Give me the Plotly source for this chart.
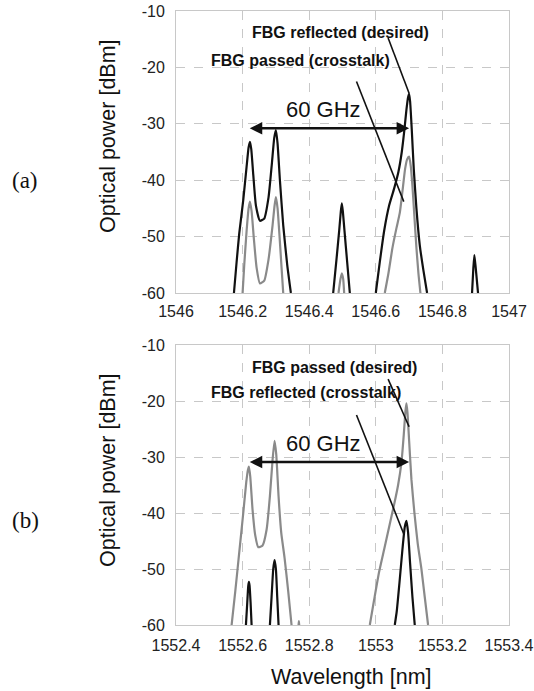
import plotly.graph_objects as go
from plotly.subplots import make_subplots

# ---------------- data (a) ----------------
a_blk1_x = [1546.174, 1546.182, 1546.190, 1546.202, 1546.212, 1546.218, 1546.222, 1546.226, 1546.232, 1546.240, 1546.252, 1546.265, 1546.278, 1546.288, 1546.295, 1546.300, 1546.305, 1546.312, 1546.322, 1546.334, 1546.345]
a_blk1_y = [-60, -54.5, -49.4, -43.5, -37.6, -34.2, -33.2, -34.5, -39, -44.5, -47.2, -46.8, -43, -37, -32.5, -31.1, -33.5, -40, -48, -55, -60]
a_gry1_x = [1546.200, 1546.205, 1546.212, 1546.218, 1546.222, 1546.227, 1546.234, 1546.242, 1546.252, 1546.265, 1546.278, 1546.290, 1546.296, 1546.300, 1546.305, 1546.311, 1546.317, 1546.322]
a_gry1_y = [-60, -55, -49, -45, -43.8, -45.5, -50.5, -55.5, -58.3, -57.8, -54, -48, -44.5, -43, -45, -50, -55.5, -60]
a_blk2_x = [1546.472, 1546.482, 1546.490, 1546.495, 1546.498, 1546.501, 1546.506, 1546.514, 1546.522]
a_blk2_y = [-60, -54, -49, -45.5, -44.1, -45.5, -49, -54.5, -60]
a_gry2_x = [1546.488, 1546.494, 1546.498, 1546.502, 1546.505]
a_gry2_y = [-60, -57.5, -56.5, -57.5, -60]
a_blk3_x = [1546.600, 1546.612, 1546.625, 1546.640, 1546.655, 1546.668, 1546.678, 1546.686, 1546.692, 1546.697, 1546.700, 1546.703, 1546.708, 1546.714, 1546.722, 1546.732, 1546.743, 1546.754]
a_blk3_y = [-60, -54.5, -49, -44.5, -41.5, -38.5, -35, -31, -27.5, -25.3, -24.7, -26, -31, -38, -45, -51.5, -56, -60]
a_gry3_x = [1546.627, 1546.638, 1546.650, 1546.662, 1546.672, 1546.680, 1546.688, 1546.694, 1546.700, 1546.705, 1546.710, 1546.716, 1546.722, 1546.728, 1546.734]
a_gry3_y = [-60, -56.5, -52, -48.5, -45.8, -42, -38, -36.3, -35.8, -37.5, -41, -46.5, -52, -56.5, -60]
a_blk4_x = [1546.889, 1546.893, 1546.896, 1546.900, 1546.907]
a_blk4_y = [-60, -55.5, -53.3, -55.5, -60]

# ---------------- data (b) ----------------
b_gry1_x = [1552.567, 1552.578, 1552.590, 1552.602, 1552.611, 1552.616, 1552.619, 1552.623, 1552.630, 1552.638, 1552.647, 1552.660, 1552.672, 1552.682, 1552.690, 1552.696, 1552.701, 1552.708, 1552.716, 1552.726, 1552.737, 1552.747]
b_gry1_y = [-60, -54, -47, -40, -34.5, -32.3, -31.7, -33.5, -39.5, -44, -46.1, -45.8, -43, -37, -30.5, -27.1, -29.5, -37, -43.5, -48, -54, -60]
b_gry2_x = [1552.768, 1552.769, 1552.770]
b_gry2_y = [-60, -59.3, -60]
b_gry3_x = [1552.982, 1552.995, 1553.010, 1553.025, 1553.040, 1553.055, 1553.067, 1553.077, 1553.084, 1553.089, 1553.092, 1553.095, 1553.100, 1553.107, 1553.116, 1553.126, 1553.137, 1553.147, 1553.157]
b_gry3_y = [-60, -55.5, -50.5, -46.5, -42.5, -38.5, -35, -31, -26, -21.8, -20.4, -22, -27, -34, -40, -45.5, -50, -55, -60]
b_blk1_x = [1552.610, 1552.614, 1552.617, 1552.619, 1552.621, 1552.624, 1552.627]
b_blk1_y = [-60, -56, -53, -52.3, -53, -56, -60]
b_blk2_x = [1552.682, 1552.687, 1552.692, 1552.696, 1552.700, 1552.704, 1552.708]
b_blk2_y = [-60, -55, -50, -48.4, -50, -55, -60]
b_blk3_x = [1553.057, 1553.063, 1553.071, 1553.080, 1553.087, 1553.092, 1553.097, 1553.103, 1553.110, 1553.117]
b_blk3_y = [-60, -57.5, -52.5, -46.5, -42.5, -41.4, -43.5, -49, -55, -60]

# ticks
a_xtickvals = [1546, 1546.2, 1546.4, 1546.6, 1546.8, 1547]
a_xticktext = ["1546", "1546.2", "1546.4", "1546.6", "1546.8", "1547"]
b_xtickvals = [1552.4, 1552.6, 1552.8, 1553, 1553.2, 1553.4]
b_xticktext = ["1552.4", "1552.6", "1552.8", "1553", "1553.2", "1553.4"]
ytickvals = [-10, -20, -30, -40, -50, -60]
yticktext = ["-10", "-20", "-30", "-40", "-50", "-60"]

# annotation pointer lines [x0, y0, x1, y1]
a_ptr_desired = [1546.637, -14.8, 1546.700, -24.6]
a_ptr_cross = [1546.542, -22.5, 1546.684, -43.8]
b_ptr_desired = [1553.037, -16.1, 1553.100, -24.6]
b_ptr_cross = [1552.942, -22.5, 1553.084, -43.75]
a_arrow = [1546.217, 1546.700, -30.8]
b_arrow = [1552.617, 1553.100, -30.9]

BLACK = "#111111"
GRAY = "#8a8a8a"
FONT = "Liberation Sans"

W, H = 534, 691
L, T, R, B = 176, 11, 25, 66
PH = H - T - B  # plot area height

def py(pix):
    # page pixel y -> paper fraction
    return 1 - (pix - T) / PH

def px(pix):
    return (pix - L) / (W - L - R)

fig = make_subplots(rows=2, cols=1, vertical_spacing=0.0)

def add(x, y, color, row):
    fig.add_trace(go.Scatter(x=x, y=y, mode="lines",
                             line=dict(color=color, width=2.2, shape="spline", smoothing=0.5),
                             showlegend=False, hoverinfo="skip"), row=row, col=1)

add(a_gry1_x, a_gry1_y, GRAY, 1)
add(a_gry2_x, a_gry2_y, GRAY, 1)
add(a_gry3_x, a_gry3_y, GRAY, 1)
add(a_blk1_x, a_blk1_y, BLACK, 1)
add(a_blk2_x, a_blk2_y, BLACK, 1)
add(a_blk3_x, a_blk3_y, BLACK, 1)
add(a_blk4_x, a_blk4_y, BLACK, 1)

add(b_gry1_x, b_gry1_y, GRAY, 2)
add(b_gry2_x, b_gry2_y, GRAY, 2)
add(b_gry3_x, b_gry3_y, GRAY, 2)
add(b_blk1_x, b_blk1_y, BLACK, 2)
add(b_blk2_x, b_blk2_y, BLACK, 2)
add(b_blk3_x, b_blk3_y, BLACK, 2)

axis_common = dict(showgrid=True, gridcolor="#c8c8c8", griddash="dash", gridwidth=1,
                   showline=True, linecolor="#c8c8c8", linewidth=1, mirror=True,
                   zeroline=False, ticks="", automargin=False,
                   tickfont=dict(family=FONT, size=16, color="#222"))

fig.update_xaxes(range=[1546, 1547], tickvals=a_xtickvals, ticktext=a_xticktext, ticklabelstandoff=4,
                 row=1, col=1, **axis_common)
fig.update_xaxes(range=[1552.4, 1553.4], tickvals=b_xtickvals, ticktext=b_xticktext, ticklabelstandoff=6,
                 row=2, col=1, **axis_common)
fig.update_yaxes(range=[-60, -10], tickvals=ytickvals, ticktext=yticktext, ticklabelstandoff=7,
                 row=1, col=1, **axis_common)
fig.update_yaxes(range=[-60, -10], tickvals=ytickvals, ticktext=yticktext, ticklabelstandoff=7,
                 row=2, col=1, **axis_common)

fig.update_layout(
    width=W, height=H,
    margin=dict(l=L, r=R, t=T, b=B, autoexpand=False),
    paper_bgcolor="white", plot_bgcolor="white",
    yaxis=dict(domain=[py(293), 1.0]),
    yaxis2=dict(domain=[0.0, py(345)]),
)

def ptr(p, xr, yr):
    fig.add_shape(type="line", x0=p[0], y0=p[1], x1=p[2], y1=p[3], xref=xr, yref=yr,
                  line=dict(color=BLACK, width=1.6))

ptr(a_ptr_desired, "x", "y")
ptr(a_ptr_cross, "x", "y")
ptr(b_ptr_desired, "x2", "y2")
ptr(b_ptr_cross, "x2", "y2")

def dbl_arrow(a, xr, yr):
    fig.add_annotation(x=a[1], y=a[2], ax=a[0], ay=a[2], xref=xr, yref=yr, axref=xr, ayref=yr,
                       text="", showarrow=True, arrowhead=2, startarrowhead=2, arrowside="end+start",
                       arrowsize=1.0, arrowwidth=2.5, arrowcolor=BLACK)

dbl_arrow(a_arrow, "x", "y")
dbl_arrow(b_arrow, "x2", "y2")

def txt(t, x, y, xr, yr, size, bold=False, family=FONT, angle=0):
    fig.add_annotation(x=x, y=y, xref=xr, yref=yr, text=("<b>%s</b>" % t) if bold else t,
                       showarrow=False, xanchor="center", yanchor="middle", textangle=angle,
                       font=dict(family=family, size=size, color="#111"))

txt("FBG reflected (desired)", 1546.493, -13.8, "x", "y", 16, True)
txt("FBG passed (crosstalk)", 1546.373, -18.7, "x", "y", 16, True)
txt("60 GHz", 1546.442, -27.5, "x", "y", 22)
txt("FBG passed (desired)", 1552.876, -14.0, "x2", "y2", 16, True)
txt("FBG reflected (crosstalk)", 1552.789, -18.5, "x2", "y2", 16, True)
txt("60 GHz", 1552.844, -27.6, "x2", "y2", 22)

# axis titles and panel labels (positions given in page pixels)
txt("Optical power [dBm]", px(108), py(136), "paper", "paper", 21.5, angle=-90)
txt("Optical power [dBm]", px(108), py(470), "paper", "paper", 21.5, angle=-90)
txt("Wavelength [nm]", px(351), py(677), "paper", "paper", 21.5)
txt("(a)", px(25), py(180), "paper", "paper", 23, family="Liberation Serif")
txt("(b)", px(25), py(520), "paper", "paper", 23, family="Liberation Serif")

fig.write_html("out.html", config={"displayModeBar": False},
               post_script="document.body.style.margin='0';document.body.style.overflow='hidden';")
